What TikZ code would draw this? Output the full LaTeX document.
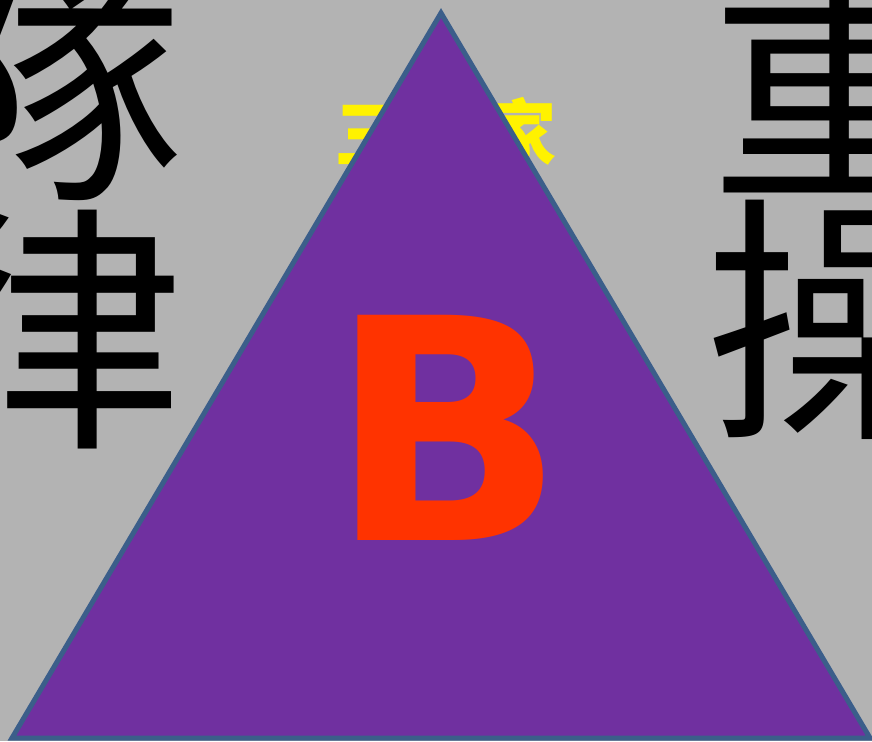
\documentclass[tikz,border=0pt]{standalone}
\usepackage{fontspec}
\setmainfont{Liberation Sans}
\newfontfamily\letterfont{DejaVu Sans}
\newfontfamily\cjk{Noto Sans CJK TC}
\definecolor{bggray}{HTML}{B3B3B3}
\definecolor{tripurple}{HTML}{7030A0}
\definecolor{triedge}{HTML}{3B5E8A}
\definecolor{letterred}{HTML}{FF3300}
\begin{document}
\begin{tikzpicture}
\useasboundingbox (0pt,0pt) rectangle (872pt,-741pt);
\fill[color=bggray] (0pt,0pt) rectangle (872pt,-741pt);
\node[color=yellow, font=\cjk\bfseries\fontsize{74pt}{74pt}\selectfont, inner sep=0pt] (sanren) at (445pt,-133pt) {三人家};
\node[font=\cjk\fontsize{260pt}{260pt}\selectfont, inner sep=0pt] (dui) at (55pt,-85pt) {隊};
\node[font=\cjk\fontsize{260pt}{260pt}\selectfont, inner sep=0pt] (lv) at (55pt,-330pt) {律};
\node[font=\cjk\fontsize{260pt}{260pt}\selectfont, inner sep=0pt] (zhong) at (840pt,-78pt) {重};
\node[font=\cjk\fontsize{260pt}{260pt}\selectfont, inner sep=0pt] (cao) at (834pt,-320pt) {操};
\coordinate (top) at (441pt,-13pt);
\coordinate (left) at (12pt,-738pt);
\coordinate (right) at (870pt,-738pt);
\draw[color=triedge, fill=tripurple, line width=5pt] (top) -- (left) -- (right) -- cycle;
\node[color=letterred, font=\letterfont\bfseries\fontsize{309pt}{309pt}\selectfont, inner sep=0pt] (bee) at (447pt,-428pt) {B};
\end{tikzpicture}
\end{document}
